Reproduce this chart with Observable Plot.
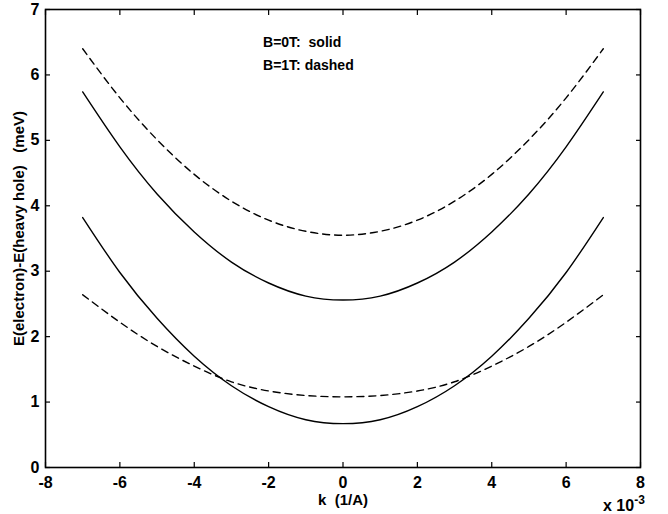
<!DOCTYPE html>
<html><head><meta charset="utf-8">
<script src="https://cdn.jsdelivr.net/npm/d3@7"></script>
<script src="https://cdn.jsdelivr.net/npm/@observablehq/plot@0.6"></script>
<style>body{margin:0;background:#fff}svg{display:block}</style>
</head><body><div id="chart"></div>
<script>
// wave vector k in units of 1e-3 1/A
const k = [-7, -6, -5, -4, -3, -2, -1, 0, 1, 2, 3, 4, 5, 6, 7];
// B = 0T (solid)
const solidUpper = [5.74, 4.90, 4.18, 3.60, 3.14, 2.82, 2.62, 2.56, 2.62, 2.82, 3.14, 3.60, 4.18, 4.90, 5.74];
const solidLower = [3.82, 2.98, 2.28, 1.70, 1.25, 0.93, 0.73, 0.67, 0.73, 0.93, 1.25, 1.70, 2.28, 2.98, 3.82];
// B = 1T (dashed)
const dashedUpper = [6.40, 5.65, 5.01, 4.48, 4.07, 3.78, 3.61, 3.55, 3.61, 3.78, 4.07, 4.48, 5.01, 5.65, 6.40];
const dashedLower = [2.64, 2.22, 1.85, 1.55, 1.31, 1.17, 1.10, 1.08, 1.10, 1.17, 1.31, 1.55, 1.85, 2.22, 2.64];

const xTicks = [-8, -6, -4, -2, 0, 2, 4, 6, 8];
const yTicks = [0, 1, 2, 3, 4, 5, 6, 7];
const notes = ["B=0T:\u00a0\u00a0solid", "B=1T:\u00a0dashed"];
const yLabel = "E(electron)-E(heavy hole)\u00a0\u00a0\u00a0(meV)";
const xLabel = "k\u00a0\u00a0(1/A)";

const toRows = (vals, name) => k.map((kk, i) => ({k: kk, e: vals[i], series: name}));
const solidRows = [...toRows(solidUpper, "su"), ...toRows(solidLower, "sl")];
const dashedRows = [...toRows(dashedUpper, "du"), ...toRows(dashedLower, "dl")];

const font = "'Liberation Sans', Arial, Helvetica, sans-serif";
const plain = d => String(d);

const chart = Plot.plot({
  width: 668,
  height: 514,
  marginLeft: 45,
  marginRight: 28,
  marginTop: 9,
  marginBottom: 47,
  style: {fontFamily: font, background: "#fff", color: "#000"},
  x: {domain: [-8, 8]},
  y: {domain: [0, 7]},
  marks: [
    Plot.line(solidRows, {x: "k", y: "e", z: "series", curve: "natural", stroke: "#000", strokeWidth: 1.4}),
    Plot.line(dashedRows, {x: "k", y: "e", z: "series", curve: "natural", stroke: "#000", strokeWidth: 1.4, strokeDasharray: "7,5"}),
    // inward ticks on all four sides
    Plot.axisX({ticks: xTicks, anchor: "bottom", tickSize: 5, text: null, dy: -5, label: null, strokeWidth: 1.2}),
    Plot.axisX({ticks: xTicks, anchor: "top", tickSize: 5, text: null, dy: 5, label: null, strokeWidth: 1.2}),
    Plot.axisY({ticks: yTicks, anchor: "left", tickSize: 5, text: null, dx: 5, label: null, strokeWidth: 1.2}),
    Plot.axisY({ticks: yTicks, anchor: "right", tickSize: 5, text: null, dx: -5, label: null, strokeWidth: 1.2}),
    // tick labels
    Plot.axisX({ticks: xTicks, anchor: "bottom", tickSize: 0, tickPadding: 9, label: null, tickFormat: plain, fontSize: 16, fontWeight: "bold"}),
    Plot.axisY({ticks: yTicks, anchor: "left", tickSize: 0, tickPadding: 6, label: null, tickFormat: plain, fontSize: 16, fontWeight: "bold"}),
    Plot.frame({stroke: "#000", strokeWidth: 1.6}),
    // annotations
    Plot.text(notes, {x: -2.15, y: (d, i) => [6.5, 6.15][i], text: d => d, textAnchor: "start", lineAnchor: "middle", fontSize: 14, fontWeight: "bold", fill: "#000"}),
    Plot.text([xLabel], {frameAnchor: "bottom", dy: 33, text: d => d, textAnchor: "middle", lineAnchor: "middle", fontSize: 15, fontWeight: "bold", fill: "#000"}),
    Plot.text([yLabel], {frameAnchor: "left", dx: -26, dy: -10, rotate: -90, text: d => d, textAnchor: "middle", lineAnchor: "middle", fontSize: 15, fontWeight: "bold", fill: "#000"})
  ]
});

// multiplier label "x 10^-3" below the right end of the x axis
const svg = d3.select(chart);
const t = svg.append("text")
  .attr("x", 603).attr("y", 511).attr("text-anchor", "start")
  .attr("font-family", font).attr("font-size", 16).attr("font-weight", "bold").attr("fill", "#000");
t.append("tspan").text("x 10");
t.append("tspan").attr("dy", -7).attr("font-size", 12).text("-3");

document.getElementById("chart").appendChild(chart);
</script>
</body></html>
